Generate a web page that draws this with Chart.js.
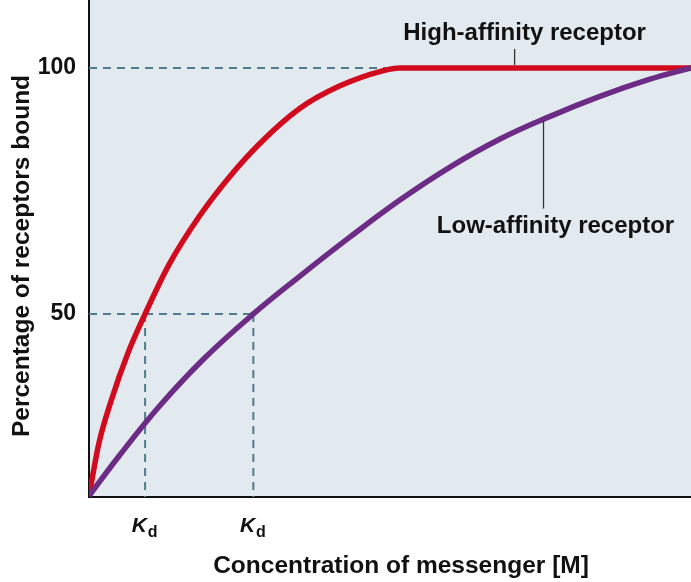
<!DOCTYPE html>
<html>
<head>
<meta charset="utf-8">
<script src="https://cdn.jsdelivr.net/npm/chart.js@4.4.1/dist/chart.umd.min.js"></script>
<style>
html,body{margin:0;padding:0;background:#fff;}
canvas{display:block;}
</style>
</head>
<body>
<canvas id="c" width="691" height="582"></canvas>
<script>
// Data
const highX = [0, 1.66, 3.66, 6.49, 9.32, 13.31, 18.3, 23.29, 28.29, 34.94, 41.6, 48.75, 51.58, 70, 100];
const highY = [13.0, 23.8, 32.3, 42.1, 50.0, 60.06, 69.8, 77.8, 84.55, 91.7, 96.3, 99.4, 100, 100, 100];
const lowX = [0, 4.99, 11.65, 19.13, 27.3, 34.94, 43.26, 51.58, 59.9, 68.2, 76.5, 84.86, 93.18, 100];
const lowY = [13.0, 21.14, 31.2, 40.95, 50.0, 57.6, 65.55, 73.1, 79.8, 85.5, 90.1, 94.2, 97.7, 100];
const yTicks = [50, 100];
const kdValues = [9.32, 27.3];         // Kd of high- and low-affinity receptor
const kdLabel = ['K', 'd'];
const saturationX = 51.58;             // where the high-affinity curve reaches 100
const yRange = [12.8, 113.8];
const xRange = [0, 100];
const seriesNames = ['High-affinity receptor', 'Low-affinity receptor'];
const labelAnchors = [ {x: 70.7, y: 100}, {x: 75.5, y: 89.7} ];
const yTitle = 'Percentage of receptors bound';
const xTitle = 'Concentration of messenger [M]';

const toPts = (xs, ys) => xs.map((x, i) => ({x, y: ys[i]}));
const dashColor = '#4f7d8c';
const dashed = (pts) => ({
  data: pts, borderColor: dashColor, borderWidth: 2, borderDash: [8, 6],
  pointRadius: 0, tension: 0, order: 10, fill: false
});

const datasets = [
  dashed([{x: xRange[0], y: 100}, {x: saturationX, y: 100}]),
  dashed([{x: xRange[0], y: 50}, {x: kdValues[1], y: 50}]),
  dashed([{x: kdValues[0], y: 50}, {x: kdValues[0], y: yRange[0]}]),
  dashed([{x: kdValues[1], y: 50}, {x: kdValues[1], y: yRange[0]}]),
  { label: seriesNames[0], data: toPts(highX, highY), borderColor: '#d20a1e', borderWidth: 5.5,
    pointRadius: 0, cubicInterpolationMode: 'monotone', order: 2 },
  { label: seriesNames[1], data: toPts(lowX, lowY), borderColor: '#6c2b84', borderWidth: 5.5,
    pointRadius: 0, tension: 0.4, order: 1 }
];

const FONT = '"Liberation Sans", Arial, Helvetica, sans-serif';

const bgPlugin = {
  id: 'bg',
  beforeDraw(chart) {
    const {ctx, chartArea: a} = chart;
    ctx.save();
    ctx.fillStyle = '#e2e9ef';
    ctx.fillRect(a.left, a.top, a.right - a.left, a.bottom - a.top);
    ctx.restore();
  }
};

const annPlugin = {
  id: 'ann',
  afterDraw(chart) {
    const {ctx, chartArea: a} = chart;
    const xs = chart.scales.x, ys = chart.scales.y;
    ctx.save();
    ctx.fillStyle = '#111';
    ctx.strokeStyle = '#333';
    ctx.lineWidth = 1.3;
    // Kd tick labels
    kdValues.forEach(v => {
      const px = xs.getPixelForValue(v);
      ctx.font = 'italic bold 21px ' + FONT;
      const wK = ctx.measureText(kdLabel[0]).width;
      ctx.font = 'bold 16px ' + FONT;
      const wd = ctx.measureText(kdLabel[1]).width;
      const start = px - (wK + wd) / 2 - 1;
      ctx.textBaseline = 'alphabetic';
      ctx.textAlign = 'left';
      ctx.font = 'italic bold 21px ' + FONT;
      ctx.fillText(kdLabel[0], start, 532);
      ctx.font = 'bold 16px ' + FONT;
      ctx.fillText(kdLabel[1], start + wK + 1, 537);
    });
    // axis titles
    ctx.font = 'bold 24.5px ' + FONT;
    ctx.textAlign = 'center'; ctx.textBaseline = 'middle';
    ctx.fillText(xTitle, a.left + 312, a.bottom + 69);
    ctx.save();
    ctx.translate(22, a.top + 256);
    ctx.rotate(-Math.PI / 2);
    ctx.fillText(yTitle, 0, 0);
    ctx.restore();
    // high-affinity label
    ctx.font = 'bold 24px ' + FONT;
    let p = labelAnchors[0];
    let px = xs.getPixelForValue(p.x), py = ys.getPixelForValue(p.y);
    ctx.beginPath(); ctx.moveTo(px, py - 3); ctx.lineTo(px, py - 19); ctx.stroke();
    ctx.fillText(seriesNames[0], px + 10, py - 35);
    // low-affinity label
    p = labelAnchors[1];
    px = xs.getPixelForValue(p.x); py = ys.getPixelForValue(p.y);
    ctx.beginPath(); ctx.moveTo(px, py + 2); ctx.lineTo(px, py + 90); ctx.stroke();
    ctx.fillText(seriesNames[1], px + 12, py + 108);
    ctx.restore();
  }
};

new Chart(document.getElementById('c'), {
  type: 'line',
  data: { datasets },
  options: {
    responsive: false,
    devicePixelRatio: 1,
    animation: false,
    layout: { padding: 0 },
    plugins: { legend: { display: false }, tooltip: { enabled: false } },
    scales: {
      x: {
        type: 'linear', min: xRange[0], max: xRange[1],
        grid: { display: false, drawTicks: false },
        border: { display: true, color: '#111', width: 2 },
        ticks: { display: false },
        afterFit(s) { s.height = 85; s.paddingLeft = 0; s.paddingRight = 0; }
      },
      y: {
        type: 'linear', min: yRange[0], max: yRange[1],
        grid: { display: false, drawTicks: false },
        border: { display: true, color: '#111', width: 2 },
        afterBuildTicks(s) { s.ticks = yTicks.map(v => ({ value: v })); },
        ticks: { color: '#111', padding: 13, font: { family: FONT, size: 23, weight: 'bold' } },
        afterFit(s) { s.width = 89; s.paddingTop = 0; s.paddingBottom = 0; }
      }
    }
  },
  plugins: [bgPlugin, annPlugin]
});
</script>
</body>
</html>
